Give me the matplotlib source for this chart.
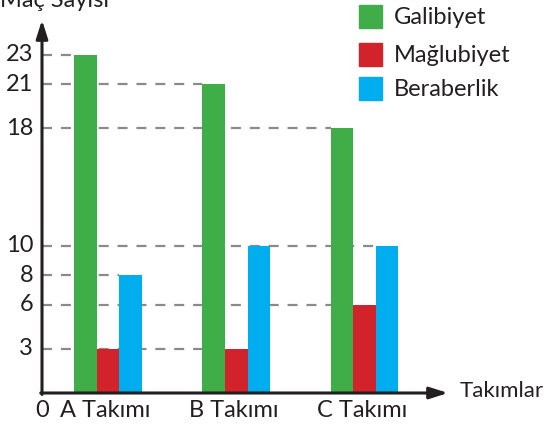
import matplotlib
matplotlib.use("Agg")
import matplotlib.pyplot as plt
from matplotlib.patches import Rectangle

plt.rcParams['font.family'] = ['Lato', 'DejaVu Sans']

teams = ["A Takımı", "B Takımı", "C Takımı"]
galibiyet = [23, 21, 18]
maglubiyet = [3, 3, 6]
beraberlik = [8, 10, 10]
series_names = ["Galibiyet", "Mağlubiyet", "Beraberlik"]
colors = ["#3fae49", "#d2232a", "#00aeef"]
yticks = [3, 6, 8, 10, 18, 21, 23]

W, H = 550, 425
FS = 17
fig = plt.figure(figsize=(W / 100, H / 100), dpi=100)
ax = fig.add_axes([0, 0, 1, 1])

# pixel layout of the reference
px_unit_x = 128.25
px_unit_y = 14.7
a_center_px = 108
origin_y_px = 32  # from bottom
ax.set_xlim(-a_center_px / px_unit_x, (W - a_center_px) / px_unit_x)
ax.set_ylim(-origin_y_px / px_unit_y, (H - origin_y_px) / px_unit_y)
ax.axis("off")

axis_x = (42 - a_center_px) / px_unit_x
bw = 0.176

series = [galibiyet, maglubiyet, beraberlik]
bars = []
for k, vals in enumerate(series):
    for i, v in enumerate(vals):
        x = i + (k - 1) * bw
        ax.bar(x, v, width=bw, color=colors[k], zorder=3)
        bars.append((x - bw / 2, v))

# dashed guide lines: from the axis to the left edge of the furthest bar of that height
for t in yticks:
    ends = [left for left, v in bars if v == t]
    ax.hlines(t, axis_x, max(ends), colors="#8a8a8a", linestyles=(0, (4.5, 4)),
              linewidth=1.6, zorder=2)
    ax.text(axis_x - 0.07, t, str(t), ha="right", va="center", fontsize=FS,
            color="#231f20")

# axes with arrows
top = (H - 20 - origin_y_px) / px_unit_y
right = (448 - a_center_px) / px_unit_x
ax.annotate("", xy=(axis_x, top), xytext=(axis_x, -0.1),
            arrowprops=dict(arrowstyle="-|>,head_width=0.35,head_length=1.1",
                            color="#231f20", lw=2.2, shrinkA=0, shrinkB=0), zorder=4)
ax.annotate("", xy=(right, 0), xytext=(axis_x - 0.01, 0),
            arrowprops=dict(arrowstyle="-|>,head_width=0.35,head_length=1.1",
                            color="#231f20", lw=2.2, shrinkA=0, shrinkB=0), zorder=4)

ax.text(axis_x, -0.5, "0", ha="center", va="top", fontsize=FS, color="#231f20")
for i, name in enumerate(teams):
    ax.text(i - 0.02, -0.5, name, ha="center", va="top", fontsize=FS, color="#231f20")
ax.text(right + 0.09, 0.15, "Takımlar", ha="left", va="center", fontsize=16,
        color="#231f20")
ax.text(55 / W, 1 - 7 / H, "Maç Sayısı", transform=fig.transFigure, ha="center",
        va="baseline", fontsize=FS, color="#231f20")

# legend
leg_y = [5, 43, 77]
for k, name in enumerate(series_names):
    fig.add_artist(Rectangle((359 / W, 1 - (leg_y[k] + 23) / H), 23 / W, 23 / H,
                             transform=fig.transFigure, color=colors[k]))
    fig.text(394 / W, 1 - (leg_y[k] + 12) / H, name, ha="left", va="center",
             fontsize=FS, color="#231f20")

fig.savefig("out.png", dpi=100)
